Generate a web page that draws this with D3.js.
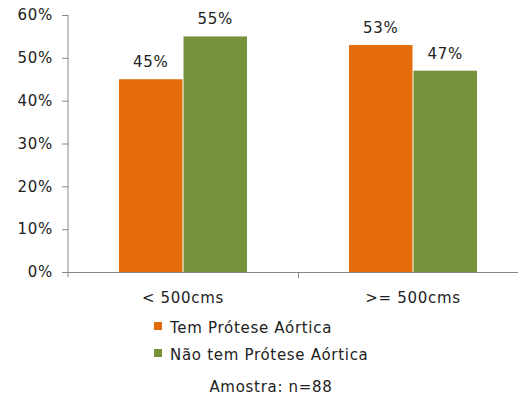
<!DOCTYPE html>
<html>
<head>
<meta charset="utf-8">
<script src="https://cdn.jsdelivr.net/npm/d3@7"></script>
<style>
  html, body { margin: 0; padding: 0; background: #fff; }
  svg { display: block; }
  text { font-family: "DejaVu Sans", Verdana, sans-serif; fill: #222; }
</style>
</head>
<body>
<svg id="chart" width="518" height="401"></svg>
<script>
// Categories, series and values
const categories = ["< 500cms", ">= 500cms"];
const series = ["Tem Prótese Aórtica", "Não tem Prótese Aórtica"];
const temProtese = [0.45, 0.53];
const naoTemProtese = [0.55, 0.47];
const yTicks = [0, 0.1, 0.2, 0.3, 0.4, 0.5, 0.6];
const note = "Amostra: n=88";

const colors = ["#E46C0A", "#77933C"];
const values = [temProtese, naoTemProtese];

const svg = d3.select("#chart");
const fontSize = 15;
const spacing = "0.7px";

const y = d3.scaleLinear().domain([0, 0.6]).range([272, 15]);
const x0 = d3.scaleBand().domain(categories).range([68, 528]).padding(0);
const groupWidth = 129;
const x1 = d3.scaleBand().domain(series).range([0, groupWidth]).padding(0);

// Y axis (line runs a little past the baseline)
const yAxis = svg.append("g")
  .attr("transform", "translate(68,0)")
  .call(d3.axisLeft(y).tickValues(yTicks).tickFormat(d3.format(".0%")).tickSize(6).tickPadding(9));
yAxis.select(".domain").attr("stroke", "#868686").attr("d", `M0,${y(0.6)}V${y(0) + 5}`);
yAxis.selectAll(".tick line").attr("stroke", "#868686");
yAxis.selectAll(".tick text")
  .attr("font-size", fontSize).attr("font-family", "DejaVu Sans")
  .attr("fill", "#222").style("letter-spacing", spacing);

// Bars
const groups = svg.append("g").selectAll("g")
  .data(categories)
  .join("g")
  .attr("transform", c => `translate(${x0(c) + (x0.bandwidth() - groupWidth) / 2},0)`);

groups.selectAll("rect")
  .data((c, i) => series.map((s, k) => ({ s, k, v: values[k][i] })))
  .join("rect")
  .attr("x", d => x1(d.s) + 0.5)
  .attr("width", x1.bandwidth() - 1)
  .attr("y", d => y(d.v))
  .attr("height", d => y(0) - y(d.v))
  .attr("fill", d => colors[d.k]);

groups.selectAll("text.val")
  .data((c, i) => series.map((s, k) => ({ s, k, v: values[k][i] })))
  .join("text")
  .attr("class", "val")
  .attr("x", d => x1(d.s) + x1.bandwidth() / 2)
  .attr("y", d => y(d.v) - 12)
  .attr("text-anchor", "middle")
  .attr("font-size", fontSize)
  .style("letter-spacing", spacing)
  .text(d => d3.format(".0%")(d.v));

// X axis: line with tick marks between categories
const xAxis = svg.append("g");
xAxis.append("line")
  .attr("x1", x0.range()[0]).attr("x2", x0.range()[1])
  .attr("y1", y(0) + 0.5).attr("y2", y(0) + 0.5)
  .attr("stroke", "#868686");
xAxis.selectAll("line.tick")
  .data(categories.slice(1))
  .join("line")
  .attr("class", "tick")
  .attr("x1", c => Math.round(x0(c)) + 0.5).attr("x2", c => Math.round(x0(c)) + 0.5)
  .attr("y1", y(0)).attr("y2", y(0) + 6)
  .attr("stroke", "#868686");
xAxis.selectAll("text")
  .data(categories)
  .join("text")
  .attr("x", c => x0(c) + x0.bandwidth() / 2)
  .attr("y", 303)
  .attr("text-anchor", "middle")
  .attr("font-size", fontSize)
  .style("letter-spacing", spacing)
  .text(c => c);

// Legend
const legend = svg.append("g").selectAll("g")
  .data(series)
  .join("g")
  .attr("transform", (s, i) => `translate(154,${322 + i * 27})`);
legend.append("rect")
  .attr("width", 8).attr("height", 8)
  .attr("fill", (s, i) => colors[i]);
legend.append("text")
  .attr("x", 16).attr("y", 11)
  .attr("font-size", fontSize)
  .style("letter-spacing", spacing)
  .text(s => s);

// Sample note
svg.append("text")
  .attr("x", 271).attr("y", 392)
  .attr("text-anchor", "middle")
  .attr("font-size", fontSize)
  .style("letter-spacing", spacing)
  .text(note);
</script>
</body>
</html>
